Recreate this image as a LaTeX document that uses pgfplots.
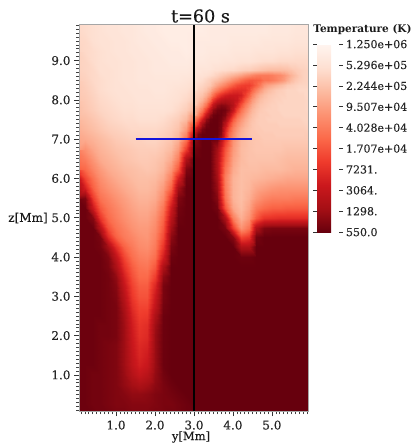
\documentclass[border=0pt]{standalone}
\usepackage{pgfplots}
\usepackage{pgfplotstable}
\usepackage{fontspec}
\setmainfont{DejaVu Serif}
\newfontfamily\lab[FakeBold=0.3]{DejaVu Serif}
\pgfplotsset{compat=1.18}
\newtoks\gd \gd={v\\}
\def\endmark{x}
\def\rowloop#1 {\def\tmp{#1}\ifx\tmp\endmark\else\global\gd\expandafter{\the\gd #1\\}\expandafter\rowloop\fi}
\let\R\rowloop
\R 1 1 1 2 2 3 3 4 4 4 3 3 2 2 1 1 0 0 0 0 0 0 0 0 0 0 0 0 0 0 0 x
\R 1 1 2 2 3 4 4 5 5 5 4 3 3 2 1 0 0 0 0 0 0 0 0 0 0 0 0 0 0 0 0 x
\R 1 1 2 2 3 4 5 7 7 6 4 3 2 1 0 0 0 0 0 0 0 0 0 0 0 0 0 0 0 0 0 x
\R 1 1 2 2 3 4 7 10 12 10 6 3 1 0 0 0 0 0 0 0 0 0 0 0 0 0 0 0 0 0 0 x
\R 1 1 2 2 3 4 8 14 18 15 7 2 0 0 0 0 0 0 0 0 0 0 0 0 0 0 0 0 0 0 0 x
\R 1 1 1 2 3 4 9 17 22 19 8 1 0 0 0 0 0 0 0 0 0 0 0 0 0 0 0 0 0 0 0 x
\R 1 1 1 2 3 4 9 18 24 21 8 1 0 0 0 0 0 0 0 0 0 0 0 0 0 0 0 0 0 0 0 x
\R 1 1 1 2 3 4 9 19 25 23 8 1 0 0 0 0 0 0 0 0 0 0 0 0 0 0 0 0 0 0 0 x
\R 1 1 1 2 2 3 9 20 27 25 8 1 0 0 0 0 0 0 0 0 0 0 0 0 0 0 0 0 0 0 0 x
\R 1 1 1 2 2 3 9 21 28 26 9 1 0 0 0 0 0 0 0 0 0 0 0 0 0 0 0 0 0 0 0 x
\R 1 1 1 1 2 3 10 23 30 29 12 1 0 0 0 0 0 0 0 0 0 0 0 0 0 0 0 0 0 0 0 x
\R 1 1 1 1 2 3 12 26 32 32 17 2 0 0 0 0 0 0 0 0 0 0 0 0 0 0 0 0 0 0 0 x
\R 1 1 1 1 2 4 15 29 35 35 20 3 0 0 0 0 0 0 0 0 0 0 0 0 0 0 0 0 0 0 0 x
\R 1 1 1 1 2 5 18 31 37 37 24 3 0 0 0 0 0 0 0 0 0 0 0 0 0 0 0 0 0 0 0 x
\R 1 1 1 1 2 7 22 34 40 40 30 6 0 0 0 0 0 0 0 0 0 0 0 0 0 0 0 0 0 0 0 x
\R 1 1 1 1 3 12 27 37 42 43 36 12 0 0 0 0 0 0 0 0 0 0 0 0 0 0 0 0 0 0 0 x
\R 1 1 1 1 4 17 32 41 45 46 41 22 1 0 0 0 0 0 0 0 0 1 1 0 0 0 0 0 0 0 0 x
\R 1 1 1 2 10 26 38 44 48 49 44 28 3 0 0 0 0 0 0 0 0 12 12 0 0 0 0 0 0 0 0 x
\R 1 1 1 3 25 38 44 47 50 51 46 33 6 0 0 0 0 0 0 0 5 32 28 2 0 0 0 0 0 0 0 x
\R 1 1 1 14 34 42 46 50 52 52 48 36 10 0 0 0 0 0 0 3 30 50 42 12 4 3 3 3 3 3 3 x
\R 1 1 5 28 40 45 49 52 54 54 50 39 15 1 0 0 0 0 0 12 45 57 50 36 28 27 26 26 26 26 26 x
\R 1 1 20 36 43 47 51 54 56 56 53 43 20 2 0 0 0 0 2 35 55 60 54 44 40 38 38 37 37 37 37 x
\R 1 4 30 42 46 50 53 56 58 58 56 48 28 4 0 0 0 0 5 42 58 61 57 51 47 45 45 45 44 44 44 x
\R 5 22 38 46 50 53 56 58 60 60 58 52 38 10 0 0 0 0 8 44 58 61 59 55 53 51 50 50 50 50 50 x
\R 15 32 42 49 53 56 58 60 61 61 60 56 45 22 1 0 0 0 10 45 58 61 60 59 58 57 56 55 55 55 55 x
\R 30 40 47 52 56 58 60 61 62 63 62 59 51 36 4 0 0 0 12 42 56 61 61 61 60 60 60 59 58 58 58 x
\R 38 45 51 56 58 60 62 63 64 64 63 61 56 45 12 0 0 0 12 38 54 60 62 62 62 62 61 60 60 60 60 x
\R 45 50 55 58 60 62 63 64 65 65 65 63 60 52 30 2 0 0 10 35 52 60 62 63 63 63 63 62 62 62 62 x
\R 53 56 58 60 62 64 65 66 66 67 67 65 63 58 42 5 0 0 2 28 50 59 62 63 64 64 64 64 64 64 64 x
\R 57 59 61 63 65 66 67 68 68 68 68 67 65 62 52 25 3 0 0 22 46 57 62 64 65 65 65 65 65 65 66 x
\R 59 61 63 65 67 68 69 69 70 70 70 69 67 65 60 46 22 1 0 8 36 51 60 64 65 66 66 66 66 67 67 x
\R 60 63 65 67 68 69 70 70 71 71 71 71 70 68 65 59 44 16 2 2 18 42 55 62 65 66 67 67 67 67 68 x
\R 62 64 66 68 69 70 71 71 72 72 72 72 71 70 68 65 58 40 20 13 16 27 45 57 63 65 66 67 67 67 68 x
\R 63 65 67 69 70 71 71 72 72 72 73 73 72 71 70 68 65 57 45 34 27 26 32 46 57 62 65 67 67 68 68 x
\R 64 66 68 69 70 71 72 72 73 73 73 73 73 73 72 71 69 65 61 55 48 41 36 37 42 44 49 56 63 66 67 x
\R 65 67 68 70 70 71 72 72 73 73 74 74 74 74 74 73 72 72 70 69 68 66 65 63 61 60 60 61 64 66 67 x
\R 66 67 69 70 71 71 72 72 73 73 74 74 75 75 75 74 74 73 73 72 72 71 71 70 69 69 68 68 68 68 68 x
\R 66 68 69 70 71 72 72 73 73 74 74 75 75 75 76 75 75 74 74 74 73 73 73 72 72 72 71 71 70 70 70 x
\R 67 68 70 71 71 72 72 73 74 74 75 75 76 76 76 75 75 75 75 75 74 74 74 74 73 73 73 73 72 72 72 x
\R 68 69 70 71 72 72 73 73 74 75 75 76 76 76 76 76 76 75 75 75 75 75 75 75 75 74 74 74 73 73 73 x
\R 68 69 70 71 72 72 73 73 74 75 75 76 76 76 76 76 76 75 75 75 75 75 75 75 75 74 74 74 73 73 73 x
\edef\doread{\noexpand\pgfplotstableread[row sep=crcr]{\the\gd}\noexpand\GridT}
\doread
\global\gd={v\\}
\R 5 0 0 0 0 0 2 10 28 42 50 55 59 60 62 62 63 63 64 64 64 64 64 64 64 64 64 64 64 x
\R 15 3 0 0 0 0 0 5 25 40 48 54 58 60 62 63 63 64 64 64 64 65 65 65 65 65 65 65 65 x
\R 25 12 3 0 0 0 0 4 22 36 46 52 57 60 62 63 64 64 65 65 65 65 65 65 65 65 65 65 65 x
\R 38 26 10 2 0 0 0 3 15 30 42 49 54 58 61 63 64 65 65 65 65 65 66 66 66 66 66 66 66 x
\R 46 36 22 7 1 0 0 2 8 22 36 45 51 56 60 62 64 65 65 66 66 66 66 66 66 66 66 66 67 x
\R 54 46 34 18 6 1 0 1 4 14 28 40 47 53 58 61 63 65 65 65 66 66 66 67 67 67 67 67 67 x
\R 59 53 44 30 16 6 2 1 2 7 18 32 42 49 55 59 62 64 65 66 66 66 67 67 67 67 67 67 67 x
\R 62 58 52 42 28 16 8 5 6 9 14 24 35 44 51 56 60 63 64 65 66 66 67 67 67 67 67 67 67 x
\R 65 62 58 51 40 28 20 15 13 14 16 19 27 37 45 52 57 61 63 64 65 66 66 67 67 67 67 67 67 x
\R 66 64 62 57 50 41 32 26 22 20 20 20 22 30 38 46 53 58 61 63 64 65 66 66 67 67 67 67 67 x
\R 68 66 65 62 57 51 45 39 34 30 27 26 26 27 32 39 46 52 57 60 62 64 65 66 67 67 67 68 68 x
\R 70 68 67 65 63 59 54 50 46 41 37 33 31 30 30 33 38 44 51 54 56 58 60 62 64 65 66 67 67 x
\R 71 70 69 67 65 63 61 58 55 52 48 45 41 38 36 36 37 38 42 42 44 46 49 52 56 60 63 65 66 x
\R 72 71 71 70 69 68 66 64 62 60 58 56 54 51 49 47 45 44 44 44 45 47 48 51 54 58 61 64 66 x
\R 73 73 72 72 71 70 70 69 69 68 68 67 66 65 65 64 63 62 61 60 60 60 60 60 61 62 64 65 66 x
\edef\doread{\noexpand\pgfplotstableread[row sep=crcr]{\the\gd}\noexpand\GridF}
\doread
\pgfplotsset{colormap={reds}{rgb255(0)=(103,0,13) rgb255(1)=(165,15,21) rgb255(2)=(203,24,29) rgb255(3)=(239,59,44) rgb255(4)=(251,106,74) rgb255(5)=(252,146,114) rgb255(6)=(252,187,161) rgb255(7)=(254,224,210) rgb255(8)=(255,245,240)}}
\definecolor{tk}{gray}{0.2}
\definecolor{bl}{RGB}{20,20,220}
\begin{document}
\begin{tikzpicture}
\useasboundingbox (0,0) rectangle (412pt,443pt);
\begin{axis}[
  at={(79pt,32pt)}, anchor=south west,
  scale only axis, width=229.5pt, height=387pt,
  view={0}{90},
  xmin=0.05, xmax=5.94, ymin=0.08, ymax=9.93,
  xtick={1,2,3,4,5}, xticklabels={1.0,2.0,3.0,4.0,5.0},
  ytick={1,2,3,4,5,6,7,8,9}, yticklabels={1.0,2.0,3.0,4.0,5.0,6.0,7.0,8.0,9.0},
  minor xtick={0.1,0.2,...,5.9}, minor ytick={0.1,0.2,...,9.9},
  tick align=outside, major tick length=5pt, minor tick length=3pt,
  tick pos=left,
  tick style={tk,line width=0.6pt}, minor tick style={black!75,line width=0.55pt},
  axis line style={draw=gray!70,line width=0.7pt},
  tick label style={font=\lab\fontsize{12}{12}\selectfont,text=black!85},
  xticklabel style={yshift=-1pt},
  axis on top,
  point meta min=0, point meta max=80,
  colormap name=reds,
  colorbar,
  colorbar style={
    at={(1.037,0.948)}, anchor=north west,
    scale only axis, width=22pt, height=188pt,
    ytick={0,8.889,17.778,26.667,35.556,44.444,53.333,62.222,71.111,80},
    yticklabels={550.0,1298.,3064.,7231.,1.707e+04,4.028e+04,9.507e+04,2.244e+05,5.296e+05,1.250e+06},
    yticklabel pos=right,
    minor ytick={},
    major tick length=4pt, tick align=outside,
    tick style={tk,line width=0.6pt},
    axis line style={draw=none},
    tick label style={font=\lab\fontsize{11}{12}\selectfont,text=black!85},
    yticklabel style={xshift=-0.5pt},
    xtick=\empty,
  },
]
\addplot3[surf,shader=interp,mesh/cols=31,mesh/ordering=x varies,point meta=explicit]
  table[x index=0, y index=0, z index=0, x expr={mod(\coordindex,31)*0.2}, y expr={floor(\coordindex/31)*0.25}, z expr=0, meta=v] {\GridT};
\addplot3[surf,shader=interp,mesh/cols=29,mesh/ordering=x varies,point meta=explicit]
  table[x index=0, y index=0, z index=0, x expr={3+mod(\coordindex,29)*0.1}, y expr={7+floor(\coordindex/29)*0.125}, z expr=0, meta=v] {\GridF};
\addplot[color=black,line width=2pt,no marks,mark=none] coordinates {(3,0.08) (3,9.93)};
\addplot[color=bl,line width=1.4pt,mark=none] coordinates {(1.5,7) (4.5,7)};
\end{axis}
\node[font=\lab\fontsize{17.6}{18}\selectfont,text=black!90] at (200.5pt,427pt) {t=60 s};
\node[font=\bfseries\fontsize{10.5}{12}\selectfont,text=black!90] at (362.5pt,413pt) {Temperature (K)};
\node[font=\lab\fontsize{12}{12}\selectfont,text=black!90] at (28pt,225pt) {z[Mm]};
\node[font=\lab\fontsize{11.5}{12}\selectfont,text=black!90] at (191pt,6pt) {y[Mm]};
\end{tikzpicture}
\end{document}
